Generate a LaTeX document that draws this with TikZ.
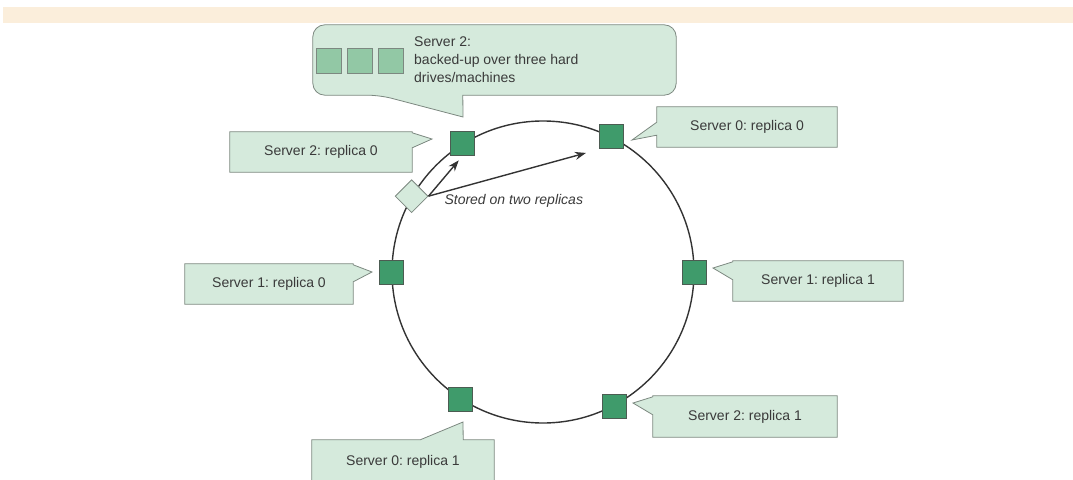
\documentclass[tikz,border=0pt]{standalone}
\usepackage{fontspec}
\setmainfont{Liberation Sans}
\frenchspacing
\usetikzlibrary{positioning,shapes.geometric,arrows.meta}
\definecolor{notefill}{HTML}{D5EADC}
\definecolor{notedraw}{HTML}{7C8880}
\definecolor{minifill}{HTML}{92C8A5}
\definecolor{srvfill}{HTML}{3F9B6B}
\definecolor{srvdraw}{HTML}{4C5C52}
\definecolor{ringcol}{HTML}{333333}
\definecolor{txt}{HTML}{3A3A3A}
\definecolor{band}{HTML}{FBEEDB}
\pgfdeclarelayer{bg}
\pgfsetlayers{bg,main}

\begin{document}
\begin{tikzpicture}[x=1pt,y=-1pt,
	every node/.style={text=txt,font=\fontsize{14}{18}\selectfont},
	note/.style={draw=notedraw,fill=notefill,line width=.8pt},
	box/.style={minimum height=40pt,inner sep=0pt},
	srv/.style={draw=srvdraw,fill=srvfill,minimum size=24pt,inner sep=0pt,line width=.8pt},
	mini/.style={draw=notedraw,fill=minifill,minimum size=25pt,inner sep=0pt,line width=.8pt},
	link/.style={ringcol,line width=1.4pt,-{Stealth[length=11pt,width=8pt]}}
	]

\clip (0,0) rectangle (1073,479);
\fill[band] (3,7) rectangle (1073,23);

% ring with the server replicas
\node[draw=ringcol,line width=1.4pt,circle,minimum size=302pt,inner sep=0pt] (ring) at (543,272) {};
\node[srv] (s0a) at (ring.63) {};
\node[srv] (s2a) at (ring.122) {};
\node[srv] (s1a) at (ring.180) {};
\node[srv] (s1b) at (ring.0) {};
\node[srv] (s0b) at (ring.237) {};
\node[srv] (s2b) at (ring.298) {};
\node[diamond,draw=notedraw,fill=notefill,line width=.8pt,minimum size=33pt,inner sep=0pt] (key) at (ring.150) {};

\draw[link,shorten >=6pt] (key.east) -- (s2a.south);
\draw[link,shorten >=14pt] (key.east) -- (s0a.south west);
\node[anchor=west,font=\fontsize{14}{18}\selectfont\itshape] (lbl) at (441,201) {Stored on two replicas};

% labels
\node[box,minimum width=182pt] (b20) at (321,152) {Server 2: replica 0};
\node[box,minimum width=180pt] (b00) at (747,127) {Server 0: replica 0};
\node[box,minimum width=168pt] (b10) at (269,284) {Server 1: replica 0};
\node[box,minimum width=170pt] (b11) at (818,281) {Server 1: replica 1};
\node[box,minimum width=184pt,minimum height=41pt] (b21) at (745,416.5) {Server 2: replica 1};
\node[box,minimum width=182pt,minimum height=44pt] (b01) at (403,462) {Server 0: replica 1};

\node[minimum width=363pt,minimum height=70pt,inner sep=0pt] (bk) at (494.5,60) {};
\node[mini] (m1) at (329,61) {};
\node[mini,right=5pt of m1] (m2) {};
\node[mini,right=5pt of m2] (m3) {};
\node[anchor=west,align=left,inner sep=0pt] (bt) at (414,60) {Server 2:\\backed-up over three hard\\drives/machines};

\begin{pgfonlayer}{bg}
\draw[note] ([xshift=67pt]bk.south west) -- (463,117) -- ([xshift=150pt]bk.south west)
	[rounded corners=12pt] -- (bk.south east) -- (bk.north east) -- (bk.north west) -- (bk.south west) -- cycle;
\draw[note] (b20.north west) -- (b20.north east) -- ([yshift=-1pt]b20.north east) -- (432,139)
	-- ([yshift=-16pt]b20.north east) -- (b20.south east) -- (b20.south west) -- cycle;
\draw[note] (b00.north west) -- (b00.north east) -- (b00.south east) -- (b00.south west)
	-- ([yshift=12pt]b00.south west) -- (632,140) -- ([yshift=25pt]b00.south west) -- cycle;
\draw[note] (b10.north west) -- (b10.north east) -- ([yshift=-1pt]b10.north east) -- (372,272)
	-- ([yshift=-18pt]b10.north east) -- (b10.south east) -- (b10.south west) -- cycle;
\draw[note] (b11.north west) -- (b11.north east) -- (b11.south east) -- (b11.south west)
	-- ([yshift=-19pt]b11.north west) -- (713,268) -- ([yshift=-1pt]b11.north west) -- cycle;
\draw[note] (b21.north west) -- (b21.north east) -- (b21.south east) -- (b21.south west)
	-- ([yshift=-19pt]b21.north west) -- (633,403) -- ([yshift=-1pt]b21.north west) -- cycle;
\draw[note] (b01.north west) -- ([xshift=-74pt]b01.north east) -- (463,422)
	-- ([xshift=-31pt]b01.north east) -- (b01.north east) -- (b01.south east) -- (b01.south west) -- cycle;
\end{pgfonlayer}

\end{tikzpicture}
\end{document}
